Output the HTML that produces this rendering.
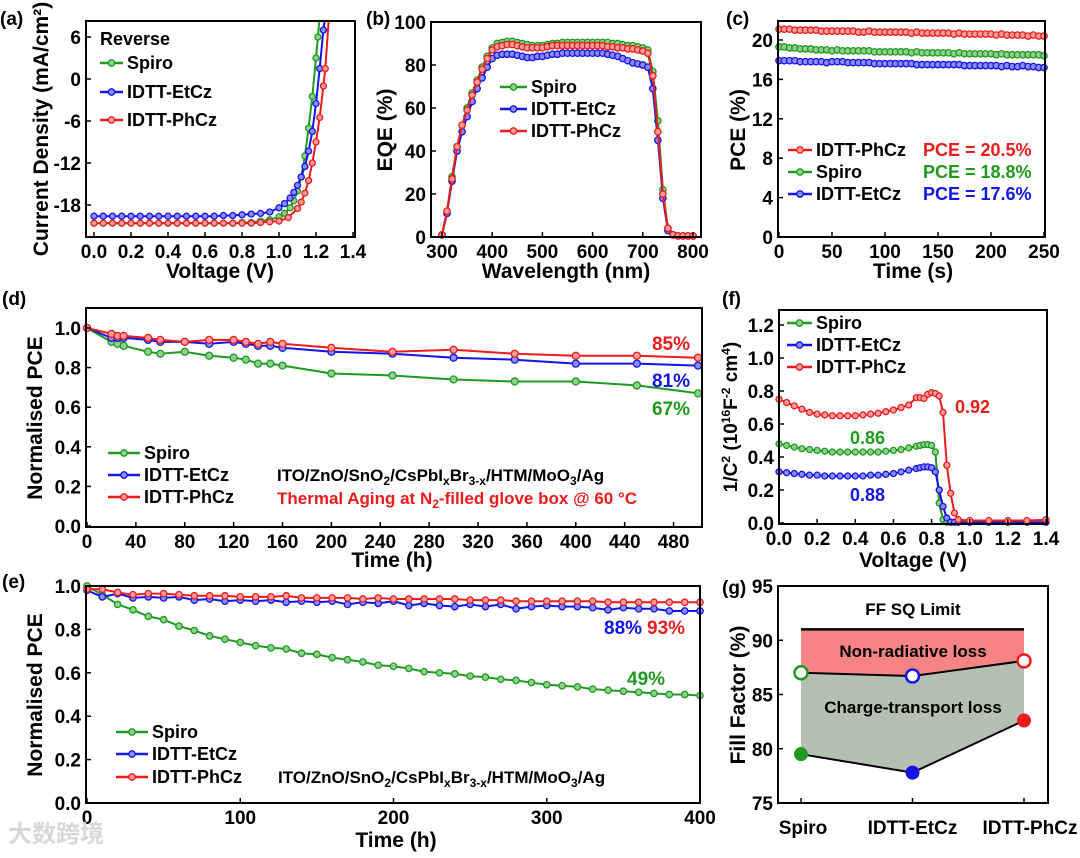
<!DOCTYPE html>
<html><head><meta charset="utf-8"><style>
html,body{margin:0;padding:0;background:#fff;}
svg{display:block;font-family:"Liberation Sans","Noto Sans CJK SC",sans-serif;font-weight:bold;}
</style></head><body>
<svg id="fig" width="1080" height="858" viewBox="0 0 1080 858"></svg>
<script>
// ---- data ----
const aSpiroV=[0,0.05,0.1,0.15,0.2,0.25,0.3,0.35,0.4,0.45,0.5,0.55,0.6,0.65,0.7,0.75,0.8,0.85,0.9,0.95,1.0,1.03,1.06,1.08,1.1,1.12,1.14,1.16,1.18,1.2,1.21,1.22];
const aSpiroJ=[-20.6,-20.6,-20.6,-20.6,-20.6,-20.6,-20.6,-20.6,-20.6,-20.6,-20.6,-20.6,-20.6,-20.6,-20.6,-20.6,-20.5,-20.5,-20.3,-20.1,-19.7,-19.2,-18.4,-17.4,-16,-14,-11,-7,-2.5,3,6,9];
const aEtV=[0,0.05,0.1,0.15,0.2,0.25,0.3,0.35,0.4,0.45,0.5,0.55,0.6,0.65,0.7,0.75,0.8,0.85,0.9,0.95,1.0,1.03,1.06,1.08,1.1,1.12,1.14,1.16,1.18,1.2,1.22,1.24,1.25];
const aEtJ=[-19.6,-19.6,-19.6,-19.6,-19.6,-19.6,-19.6,-19.6,-19.6,-19.6,-19.6,-19.6,-19.6,-19.6,-19.5,-19.5,-19.4,-19.3,-19.2,-19.0,-18.4,-17.8,-17,-16.2,-15.2,-14,-12.5,-10.3,-7.5,-3.5,1.5,7,9];
const aPhV=[0,0.05,0.1,0.15,0.2,0.25,0.3,0.35,0.4,0.45,0.5,0.55,0.6,0.65,0.7,0.75,0.8,0.85,0.9,0.95,1.0,1.05,1.1,1.12,1.14,1.16,1.18,1.2,1.22,1.24,1.25,1.27];
const aPhJ=[-20.6,-20.6,-20.6,-20.6,-20.6,-20.6,-20.6,-20.6,-20.6,-20.6,-20.6,-20.6,-20.6,-20.6,-20.6,-20.6,-20.6,-20.6,-20.5,-20.4,-20.3,-19.8,-18.5,-17.6,-16.3,-14.5,-12,-9,-5.5,-1,1.5,9];
const aXTicks=["0.0","0.2","0.4","0.6","0.8","1.0","1.2","1.4"];
const aYTicks=["-18","-12","-6","0","6"];

const bWl=[300,310,320,330,340,350,360,370,380,390,400,410,420,430,440,450,460,470,480,490,500,510,520,530,540,550,560,570,580,590,600,610,620,630,640,650,660,670,680,690,700,710,720,730,740,750,760,770,780,790,800];
const bSpiro=[1,12,28,42,52,60,67,73,79,84,88,90,90.5,91,91,90.5,90,89.5,89,89,89,89.5,90,90,90.5,90.5,90.5,90.5,90.5,90.5,90.5,90.5,90.5,90.5,90,90,89.5,89,89,88.5,88,87,77,54,22,4,1,0.5,0.5,0.5,0.5];
const bEt=[1,11,26,40,49,56,63,69,74,79,83,84.5,85,85,85,84.5,84,83.5,83.5,84,84,84.5,85,85,85.5,85.5,85.5,85.5,85.5,85.5,85.5,85.5,85.5,85,84.5,84,83,82,81,80.5,80,79,69,45,18,3,1,0.5,0.5,0.5,0.5];
const bPh=[1,12,27,42,52,59,66,72,78,83,87,88.5,89,89.5,89.5,89,88.5,88,88,88,88,88.5,89,89,89,89,89,89,89,89,89,89,89,88.5,88.5,88,88,87.5,87.5,87,86.5,85.5,75,49,20,4,1,0.5,0.5,0.5,0.5];
const bXTicks=[300,400,500,600,700,800];
const bYTicks=[0,20,40,60,80,100];

const cT=[0,5,10,15,20,25,30,35,40,45,50,55,60,65,70,75,80,85,90,95,100,105,110,115,120,125,130,135,140,145,150,155,160,165,170,175,180,185,190,195,200,205,210,215,220,225,230,235,240,245,250];
const cPh=[21.1,21.1,21.1,21.0,21.0,21.0,21.0,21.0,20.9,20.9,20.9,20.9,20.9,20.9,20.9,20.8,20.8,20.9,20.8,20.8,20.8,20.8,20.8,20.8,20.8,20.7,20.8,20.7,20.7,20.7,20.7,20.7,20.7,20.6,20.7,20.6,20.6,20.6,20.6,20.6,20.6,20.5,20.6,20.5,20.5,20.5,20.5,20.4,20.5,20.4,20.4];
const cSp=[19.3,19.3,19.2,19.2,19.1,19.1,19.1,19.0,19.0,19.0,18.9,19.0,18.9,18.9,18.9,18.9,18.9,18.9,18.8,18.8,18.8,18.8,18.8,18.8,18.8,18.7,18.8,18.7,18.7,18.7,18.7,18.7,18.7,18.6,18.7,18.6,18.6,18.6,18.6,18.6,18.6,18.5,18.6,18.5,18.5,18.5,18.5,18.5,18.5,18.5,18.4];
const cEt=[17.9,17.9,17.9,17.9,17.8,17.8,17.8,17.8,17.8,17.7,17.8,17.8,17.8,17.7,17.7,17.7,17.7,17.7,17.6,17.6,17.6,17.6,17.6,17.6,17.6,17.6,17.5,17.5,17.5,17.5,17.5,17.5,17.5,17.5,17.5,17.4,17.4,17.4,17.4,17.4,17.4,17.4,17.3,17.4,17.3,17.3,17.4,17.3,17.3,17.2,17.2];
const cXTicks=[0,50,100,150,200,250];
const cYTicks=[0,4,8,12,16,20];

const dT=[0,20,25,30,50,60,80,100,120,130,140,150,160,200,250,300,350,400,450,500];
const dSpiro=[1,0.93,0.92,0.91,0.88,0.87,0.88,0.86,0.85,0.84,0.82,0.82,0.81,0.77,0.76,0.74,0.73,0.73,0.71,0.67];
const dEt=[1,0.95,0.95,0.95,0.94,0.93,0.93,0.92,0.93,0.92,0.91,0.91,0.90,0.88,0.87,0.85,0.84,0.82,0.82,0.81];
const dPh=[1,0.97,0.96,0.96,0.95,0.94,0.93,0.94,0.94,0.93,0.92,0.93,0.92,0.90,0.88,0.89,0.87,0.86,0.86,0.85];
const dXTicks=[0,40,80,120,160,200,240,280,320,360,400,440,480];
const dYTicks=["0.0","0.2","0.4","0.6","0.8","1.0"];

const eT=[0,10,20,30,40,50,60,70,80,90,100,110,120,130,140,150,160,170,180,190,200,210,220,230,240,250,260,270,280,290,300,310,320,330,340,350,360,370,380,390,400];
const eSpiro=[1.0,0.96,0.915,0.89,0.86,0.845,0.815,0.795,0.77,0.755,0.74,0.725,0.715,0.71,0.69,0.685,0.67,0.66,0.65,0.635,0.63,0.62,0.605,0.60,0.595,0.585,0.58,0.57,0.565,0.555,0.545,0.54,0.535,0.525,0.52,0.515,0.51,0.505,0.50,0.50,0.495];
const eEt=[0.98,0.95,0.965,0.945,0.95,0.945,0.95,0.935,0.94,0.93,0.935,0.93,0.935,0.925,0.93,0.925,0.93,0.915,0.925,0.92,0.93,0.91,0.92,0.91,0.905,0.915,0.905,0.915,0.895,0.905,0.91,0.905,0.905,0.90,0.89,0.90,0.895,0.895,0.885,0.885,0.885];
const ePh=[0.985,0.985,0.97,0.96,0.965,0.965,0.96,0.955,0.955,0.955,0.95,0.95,0.95,0.955,0.945,0.945,0.945,0.945,0.94,0.945,0.94,0.94,0.94,0.94,0.94,0.935,0.935,0.935,0.93,0.93,0.93,0.93,0.93,0.93,0.925,0.925,0.925,0.925,0.925,0.925,0.925];
const eXTicks=[0,100,200,300,400];
const eYTicks=["0.0","0.2","0.4","0.6","0.8","1.0"];

const fV=[0,0.04,0.08,0.12,0.16,0.2,0.24,0.28,0.32,0.36,0.4,0.44,0.48,0.52,0.56,0.6,0.64,0.68,0.72,0.74,0.76,0.78,0.8,0.82,0.84,0.86,0.88,0.9,0.92,0.94,1.0,1.1,1.2,1.3,1.4];
const fSpiro=[0.48,0.47,0.46,0.45,0.445,0.44,0.435,0.43,0.43,0.43,0.43,0.43,0.43,0.43,0.435,0.44,0.445,0.455,0.465,0.47,0.475,0.475,0.47,0.43,0.12,0.02,0.005,0.005,0.005,0.005,0.005,0.005,0.005,0.005,0.005];
const fEt=[0.31,0.305,0.3,0.295,0.29,0.29,0.285,0.285,0.285,0.285,0.285,0.285,0.29,0.29,0.295,0.3,0.31,0.32,0.33,0.335,0.34,0.34,0.335,0.31,0.2,0.1,0.03,0.005,0.005,0.005,0.005,0.005,0.005,0.005,0.005];
const fPh=[0.75,0.73,0.71,0.69,0.67,0.66,0.655,0.65,0.65,0.65,0.65,0.655,0.66,0.665,0.675,0.685,0.7,0.715,0.76,0.76,0.755,0.78,0.79,0.785,0.77,0.67,0.35,0.18,0.06,0.02,0.015,0.015,0.015,0.015,0.02];
const fXTicks=["0.0","0.2","0.4","0.6","0.8","1.0","1.2","1.4"];
const fYTicks=["0.0","0.2","0.4","0.6","0.8","1.0","1.2"];

const gCats=["Spiro","IDTT-EtCz","IDTT-PhCz"];
const gOpen=[87.0,86.7,88.1];
const gFilled=[79.5,77.8,82.6];
const gSQ=91;
const gYTicks=[75,80,85,90,95];

const GREEN="#1f9a1f", BLUE="#1414e6", RED="#ec1c1c";
const LGREEN="#8fd08f", LBLUE="#8c8cff", LRED="#ff9a9a";
const NS="http://www.w3.org/2000/svg";
const svg=document.getElementById('fig');

function mk(tag,attrs,parent,text){
  const e=document.createElementNS(NS,tag);
  for(const k in attrs) e.setAttribute(k,attrs[k]);
  if(text!==undefined) e.textContent=text;
  (parent||svg).appendChild(e);
  return e;
}
function lin(d0,d1,r0,r1){return v=>r0+(v-d0)*(r1-r0)/(d1-d0);}

function label(x,y,txt,size,anchor,color,name,rot){
  const t=mk('text',{x:x,y:y,'font-size':size,'text-anchor':anchor||'middle',fill:color||'#000'},svg,txt);
  if(rot) t.setAttribute('transform','rotate(-90 '+x+' '+y+')');
  
  
  return t;
}
function frame(b,name){
  const r=mk('rect',{x:b.l,y:b.t,width:b.r-b.l,height:b.b-b.t,fill:'none',stroke:'#000','stroke-width':2});
  
  
}
function xticks(b,sx,vals,labels,name){
  vals.forEach((v,i)=>{
    const x=sx(v);
    const l=mk('line',{x1:x,x2:x,y1:b.b,y2:b.b-5,stroke:'#000','stroke-width':1.5});
    
    
    label(x,b.b+21,String(labels[i]),19,'middle','#000',name+'-tick-label');
  });
}
function yticks(b,sy,vals,labels,name){
  vals.forEach((v,i)=>{
    const y=sy(v);
    const l=mk('line',{x1:b.l,x2:b.l+5,y1:y,y2:y,stroke:'#000','stroke-width':1.5});
    
    
    label(b.l-5,y+7,String(labels[i]),19,'end','#000',name+'-tick-label');
  });
}
function series(xs,ys,sx,sy,col,lcol,name,r,clip){
  let d='';
  xs.forEach((x,i)=>{d+=(i?'L':'M')+sx(x).toFixed(1)+','+sy(ys[i]).toFixed(1);});
  const p=mk('path',{d:d,fill:'none',stroke:col,'stroke-width':2,'clip-path':clip?'url(#'+clip+')':''});
  
  
  xs.forEach((x,i)=>{
    const c=mk('circle',{cx:sx(x),cy:sy(ys[i]),r:r||3.2,fill:lcol,stroke:col,'stroke-width':1.3,'clip-path':clip?'url(#'+clip+')':''});
    
    
  });
}
function legend(x1,x2,y,col,lcol,txt,name){
  const l=mk('line',{x1:x1,x2:x2,y1:y,y2:y,stroke:col,'stroke-width':2.5});
  
  
  const c=mk('circle',{cx:(x1+x2)/2,cy:y,r:3.2,fill:lcol,stroke:col,'stroke-width':1.3});
  
  
  label(x2+4,y+6,txt,18,'start','#000',name);
}
function clipRect(id,b){
  const defs=mk('defs',{});
  const cp=mk('clipPath',{id:id},defs);
  mk('rect',{x:b.l,y:b.t,width:b.r-b.l,height:b.b-b.t},cp);
}

// ---- panel a ----
{
  const b={l:86,r:355,t:21,b:237};
  const sx=lin(0,1.4,94,353), sy=lin(0,6,79,37);
  clipRect('ca',b);
  series(aSpiroV,aSpiroJ,sx,sy,GREEN,LGREEN,'a-spiro',3,'ca');
  series(aEtV,aEtJ,sx,sy,BLUE,LBLUE,'a-etcz',3,'ca');
  series(aPhV,aPhJ,sx,sy,RED,LRED,'a-phcz',3,'ca');
  frame(b,'a-plot-frame');
  xticks(b,sx,aXTicks.map(Number),aXTicks,'a-x');
  yticks(b,sy,aYTicks.map(Number),aYTicks,'a-y');
  label(0,25,'(a)',19,'start','#000','a-panel-label');
  label(48,129,'Current Density (mA/cm²)',21,'middle','#000','a-y-axis-title',true);
  label(220,278,'Voltage (V)',21,'middle','#000','a-x-axis-title');
  label(100,45,'Reverse',18,'start','#000','a-legend-title');
  legend(100,123,63,GREEN,LGREEN,'Spiro','a-legend-spiro');
  legend(100,123,92,BLUE,LBLUE,'IDTT-EtCz','a-legend-etcz');
  legend(100,123,120,RED,LRED,'IDTT-PhCz','a-legend-phcz');
}
// ---- panel b ----
{
  const b={l:431,r:701,t:22,b:237};
  const sx=lin(300,800,442,693), sy=lin(0,100,237,22);
  series(bWl,bSpiro,sx,sy,GREEN,LGREEN,'b-spiro');
  series(bWl,bEt,sx,sy,BLUE,LBLUE,'b-etcz');
  series(bWl,bPh,sx,sy,RED,LRED,'b-phcz');
  frame(b,'b-plot-frame');
  xticks(b,sx,bXTicks,bXTicks,'b-x');
  yticks(b,sy,bYTicks,bYTicks,'b-y');
  label(366,25,'(b)',19,'start','#000','b-panel-label');
  label(392,130,'EQE (%)',21,'middle','#000','b-y-axis-title',true);
  label(566,278,'Wavelength (nm)',21,'middle','#000','b-x-axis-title');
  legend(500,527,87,GREEN,LGREEN,'Spiro','b-legend-spiro');
  legend(500,527,109,BLUE,LBLUE,'IDTT-EtCz','b-legend-etcz');
  legend(500,527,131,RED,LRED,'IDTT-PhCz','b-legend-phcz');
}
// ---- panel c ----
{
  const b={l:778,r:1045,t:21,b:237};
  const sx=lin(0,250,779,1044), sy=lin(0,20,237,40);
  series(cT,cPh,sx,sy,RED,LRED,'c-phcz');
  series(cT,cSp,sx,sy,GREEN,LGREEN,'c-spiro');
  series(cT,cEt,sx,sy,BLUE,LBLUE,'c-etcz');
  frame(b,'c-plot-frame');
  xticks(b,sx,cXTicks,cXTicks,'c-x');
  yticks(b,sy,cYTicks,cYTicks,'c-y');
  label(726,25,'(c)',19,'start','#000','c-panel-label');
  label(745,130,'PCE (%)',21,'middle','#000','c-y-axis-title',true);
  label(913,278,'Time (s)',21,'middle','#000','c-x-axis-title');
  legend(788,812,150,RED,LRED,'IDTT-PhCz','c-legend-phcz');
  legend(788,812,172,GREEN,LGREEN,'Spiro','c-legend-spiro');
  legend(788,812,194,BLUE,LBLUE,'IDTT-EtCz','c-legend-etcz');
  label(923,156,'PCE = 20.5%',18,'start',RED,'c-pce-phcz');
  label(923,178,'PCE = 18.8%',18,'start',GREEN,'c-pce-spiro');
  label(923,200,'PCE = 17.6%',18,'start',BLUE,'c-pce-etcz');
}
// ---- panel d ----
{
  const b={l:86,r:702,t:308,b:527};
  const sx=lin(0,500,87,698), sy=lin(0,1,526,328);
  series(dT,dSpiro,sx,sy,GREEN,LGREEN,'d-spiro',3.5);
  series(dT,dEt,sx,sy,BLUE,LBLUE,'d-etcz',3.5);
  series(dT,dPh,sx,sy,RED,LRED,'d-phcz',3.5);
  frame(b,'d-plot-frame');
  xticks(b,sx,dXTicks,dXTicks,'d-x');
  yticks(b,sy,dYTicks.map(Number),dYTicks,'d-y');
  label(2,305,'(d)',19,'start','#000','d-panel-label');
  label(42,418,'Normalised PCE',21,'middle','#000','d-y-axis-title',true);
  label(392,567,'Time (h)',21,'middle','#000','d-x-axis-title');
  legend(108,140,453,GREEN,LGREEN,'Spiro','d-legend-spiro');
  legend(108,140,475,BLUE,LBLUE,'IDTT-EtCz','d-legend-etcz');
  legend(108,140,497,RED,LRED,'IDTT-PhCz','d-legend-phcz');
  const t=label(277,481,'',17,'start','#000','d-device-structure');
  t.innerHTML='ITO/ZnO/SnO<tspan font-size="12" dy="4">2</tspan><tspan dy="-4">/CsPbI</tspan><tspan font-size="12" dy="4">x</tspan><tspan dy="-4">Br</tspan><tspan font-size="12" dy="4">3-x</tspan><tspan dy="-4">/HTM/MoO</tspan><tspan font-size="12" dy="4">3</tspan><tspan dy="-4">/Ag</tspan>';
  const t2=label(277,504,'',17,'start',RED,'d-aging-condition');
  t2.innerHTML='Thermal Aging at N<tspan font-size="12" dy="4">2</tspan><tspan dy="-4">-filled glove box @ 60 °C</tspan>';
  label(690,350,'85%',19,'end',RED,'d-phcz-retention');
  label(690,387,'81%',19,'end',BLUE,'d-etcz-retention');
  label(690,415,'67%',19,'end',GREEN,'d-spiro-retention');
}
// ---- panel f ----
{
  const b={l:779,r:1047,t:310,b:524};
  const sx=lin(0,1.4,779,1046), sy=lin(0,1.2,523,325);
  series(fV,fSpiro,sx,sy,GREEN,LGREEN,'f-spiro',3);
  series(fV,fEt,sx,sy,BLUE,LBLUE,'f-etcz',3);
  series(fV,fPh,sx,sy,RED,LRED,'f-phcz',3);
  frame(b,'f-plot-frame');
  xticks(b,sx,fXTicks.map(Number),fXTicks,'f-x');
  yticks(b,sy,fYTicks.map(Number),fYTicks,'f-y');
  label(722,305,'(f)',19,'start','#000','f-panel-label');
  const yt=label(737,417,'',19,'middle','#000','f-y-axis-title',true);
  yt.innerHTML='1/C<tspan font-size="12" dy="-7">2</tspan><tspan dy="7"> (10</tspan><tspan font-size="12" dy="-7">16</tspan><tspan dy="7">F</tspan><tspan font-size="12" dy="-7">-2</tspan><tspan dy="7"> cm</tspan><tspan font-size="12" dy="-7">4</tspan><tspan dy="7">)</tspan>';
  label(913,567,'Voltage (V)',21,'middle','#000','f-x-axis-title');
  legend(787,812,323,GREEN,LGREEN,'Spiro','f-legend-spiro');
  legend(787,812,345,BLUE,LBLUE,'IDTT-EtCz','f-legend-etcz');
  legend(787,812,367,RED,LRED,'IDTT-PhCz','f-legend-phcz');
  label(955,413,'0.92',18,'start',RED,'f-phcz-vbi');
  label(850,444,'0.86',18,'start',GREEN,'f-spiro-vbi');
  label(850,501,'0.88',18,'start',BLUE,'f-etcz-vbi');
}
// ---- panel e ----
{
  const b={l:86,r:700,t:586,b:803};
  const sx=lin(0,400,87,700), sy=lin(0,1,803,586);
  series(eT,eSpiro,sx,sy,GREEN,LGREEN,'e-spiro',3.2);
  series(eT,eEt,sx,sy,BLUE,LBLUE,'e-etcz',3.2);
  series(eT,ePh,sx,sy,RED,LRED,'e-phcz',3.2);
  frame(b,'e-plot-frame');
  xticks(b,sx,eXTicks,eXTicks,'e-x');
  yticks(b,sy,eYTicks.map(Number),eYTicks,'e-y');
  label(2,588,'(e)',19,'start','#000','e-panel-label');
  label(42,695,'Normalised PCE',21,'middle','#000','e-y-axis-title',true);
  label(396,847,'Time (h)',21,'middle','#000','e-x-axis-title');
  legend(116,148,732,GREEN,LGREEN,'Spiro','e-legend-spiro');
  legend(116,148,754,BLUE,LBLUE,'IDTT-EtCz','e-legend-etcz');
  legend(116,148,777,RED,LRED,'IDTT-PhCz','e-legend-phcz');
  const t=label(278,783,'',17,'start','#000','e-device-structure');
  t.innerHTML='ITO/ZnO/SnO<tspan font-size="12" dy="4">2</tspan><tspan dy="-4">/CsPbI</tspan><tspan font-size="12" dy="4">x</tspan><tspan dy="-4">Br</tspan><tspan font-size="12" dy="4">3-x</tspan><tspan dy="-4">/HTM/MoO</tspan><tspan font-size="12" dy="4">3</tspan><tspan dy="-4">/Ag</tspan>';
  label(604,634,'88%',19,'start',BLUE,'e-etcz-retention');
  label(647,634,'93%',19,'start',RED,'e-phcz-retention');
  label(627,685,'49%',19,'start',GREEN,'e-spiro-retention');
  label(8,842,'大数跨境',24,'start','#d8d8d8','watermark');
}
// ---- panel g ----
{
  const b={l:778,r:1048,t:586,b:803};
  const sx=lin(0,2,801,1024), sy=lin(75,95,803,586);
  const idx=gCats.map((c,i)=>i);
  let top='M'+sx(0)+','+sy(gSQ)+' L'+sx(2)+','+sy(gSQ);
  for(let i=2;i>=0;i--) top+=' L'+sx(i)+','+sy(gOpen[i]);
  const nr=mk('path',{d:top+'Z',fill:'#f78484'});
  
  
  let mid='';
  idx.forEach(i=>{mid+=(i?'L':'M')+sx(i)+','+sy(gOpen[i]);});
  for(let i=2;i>=0;i--) mid+=' L'+sx(i)+','+sy(gFilled[i]);
  const ct=mk('path',{d:mid+'Z',fill:'#b6c0b2'});
  
  
  const sq=mk('line',{x1:sx(0),x2:sx(2),y1:sy(gSQ),y2:sy(gSQ),stroke:'#000','stroke-width':2.5});
  
  
  const cols=[GREEN,BLUE,RED];
  let d1='',d2='';
  idx.forEach(i=>{d1+=(i?'L':'M')+sx(i)+','+sy(gOpen[i]);d2+=(i?'L':'M')+sx(i)+','+sy(gFilled[i]);});
  const l1=mk('path',{d:d1,fill:'none',stroke:'#000','stroke-width':2});
  
  
  const l2=mk('path',{d:d2,fill:'none',stroke:'#000','stroke-width':2});
  
  
  idx.forEach(i=>{
    const o=mk('circle',{cx:sx(i),cy:sy(gOpen[i]),r:6.5,fill:'#fff',stroke:cols[i],'stroke-width':2.5});
    
    
    const f=mk('circle',{cx:sx(i),cy:sy(gFilled[i]),r:7,fill:cols[i]});
    
    
    const tk=mk('line',{x1:sx(i),x2:sx(i),y1:b.b,y2:b.b-5,stroke:'#000','stroke-width':1.5});
    
    
    label(sx(i)+(i===0?2:i===2?6:0),834,gCats[i],19,'middle','#000','g-category-label');
  });
  frame(b,'g-plot-frame');
  yticks(b,sy,gYTicks,gYTicks,'g-y');
  label(722,594,'(g)',19,'start','#000','g-panel-label');
  label(745,695,'Fill Factor (%)',21,'middle','#000','g-y-axis-title',true);
  label(913,615,'FF SQ Limit',17,'middle','#000','g-sq-limit-label');
  label(913,657,'Non-radiative loss',17,'middle','#000','g-nonradiative-label');
  label(913,713,'Charge-transport loss',17,'middle','#000','g-charge-transport-label');
}
</script>
</body></html>
